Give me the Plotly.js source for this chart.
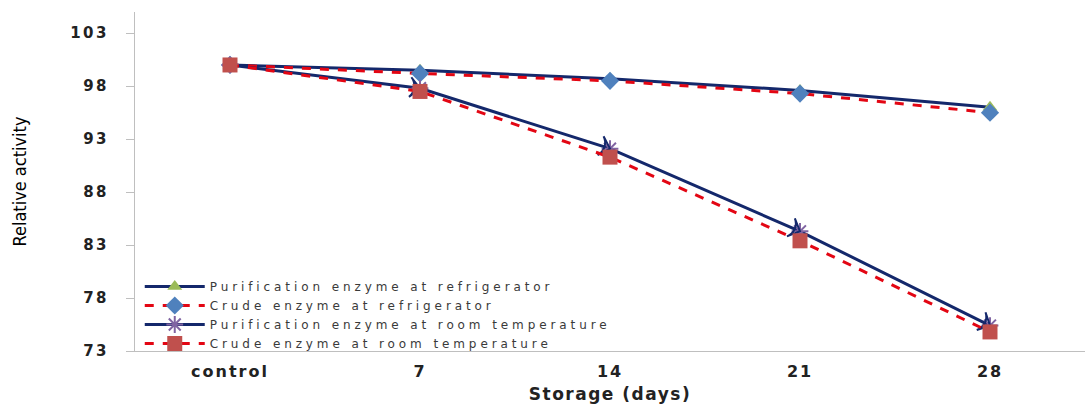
<!DOCTYPE html>
<html><head><meta charset="utf-8">
<script src="https://cdn.plot.ly/plotly-3.0.1.min.js"></script>
<style>
html,body{margin:0;padding:0;background:#fff}#chart{width:1086px;height:404px}
#chart .ytick text{letter-spacing:2.5px}
#chart .xtick text{letter-spacing:2px}
#chart .g-xtitle text{letter-spacing:1.5px}
#chart .legendtext{letter-spacing:3.9px}
#chart .legend .scrollbox{clip-path:none !important}
</style>
</head><body><div id="chart"></div>
<script>
const categories = ["control", "7", "14", "21", "28"];
const purRefrig = [100, 99.5, 98.7, 97.6, 96.0];
const crudeRefrig = [100, 99.2, 98.5, 97.3, 95.5];
const purRoom = [100, 97.8, 92.1, 84.3, 75.4];
const crudeRoom = [100, 97.5, 91.3, 83.4, 74.8];
const yTicks = [73, 78, 83, 88, 93, 98, 103];

const navy = "#14286B", red = "#E30613";
const traces = [
  {x: categories, y: purRefrig, name: "Purification enzyme at refrigerator", mode: "lines+markers",
   line: {color: navy, width: 3}, marker: {symbol: "triangle-up", size: 13, color: "#9BBB59"}},
  {x: categories, y: crudeRefrig, name: "Crude enzyme at refrigerator", mode: "lines+markers",
   line: {color: red, width: 3, dash: "dash"}, marker: {symbol: "diamond", size: 14, color: "#4F81BD"}},
  {x: categories, y: purRoom, name: "Purification enzyme at room temperature", mode: "lines+markers",
   line: {color: navy, width: 3}, marker: {symbol: "asterisk-open", size: 14, color: "#8064A2", line: {color: "#8064A2", width: 2}}},
  {x: categories, y: purRoom, name: "arrows", mode: "markers", showlegend: false, hoverinfo: "skip",
   marker: {symbol: "arrow-wide-open", angleref: "previous", size: 14, color: navy, line: {color: navy, width: 2}}},
  {x: categories, y: crudeRoom, name: "Crude enzyme at room temperature", mode: "lines+markers",
   line: {color: red, width: 3, dash: "dash"}, marker: {symbol: "square", size: 15, color: "#C0504D"}}
];

const layout = {
  width: 1086, height: 404,
  margin: {l: 135, r: 1, t: 12, b: 53},
  paper_bgcolor: "#fff", plot_bgcolor: "#fff",
  showlegend: true,
  legend: {x: 0.005, y: 0.233, xanchor: "left", yanchor: "top", bgcolor: "rgba(255,255,255,0)",
           font: {family: "DejaVu Sans", size: 12, color: "#3A3A3A"}, itemwidth: 60, tracegroupgap: 0},
  xaxis: {type: "category", range: [-0.5, 4.5], showline: true, linecolor: "#BFBFBF", linewidth: 1,
          ticks: "", showgrid: false, zeroline: false, ticklabelstandoff: 6,
          tickfont: {family: "DejaVu Sans", size: 16, color: "#222", weight: "bold"},
          title: {text: "Storage (days)", font: {family: "DejaVu Sans", size: 17, color: "#222", weight: "bold"}, standoff: 12}},
  yaxis: {range: [73, 105], tickvals: yTicks, showline: true, linecolor: "#BFBFBF", linewidth: 1,
          ticks: "outside", ticklen: 8, tickcolor: "#BFBFBF", showgrid: false, zeroline: false, ticklabelstandoff: 14,
          tickfont: {family: "DejaVu Sans", size: 15, color: "#222", weight: "bold"},
          title: {text: "Relative activity", font: {family: "Liberation Sans Narrow, DejaVu Sans Condensed", size: 18, color: "#000"}, standoff: 46}}
};
Plotly.newPlot("chart", traces, layout, {displayModeBar: false, staticPlot: true});
</script></body></html>
